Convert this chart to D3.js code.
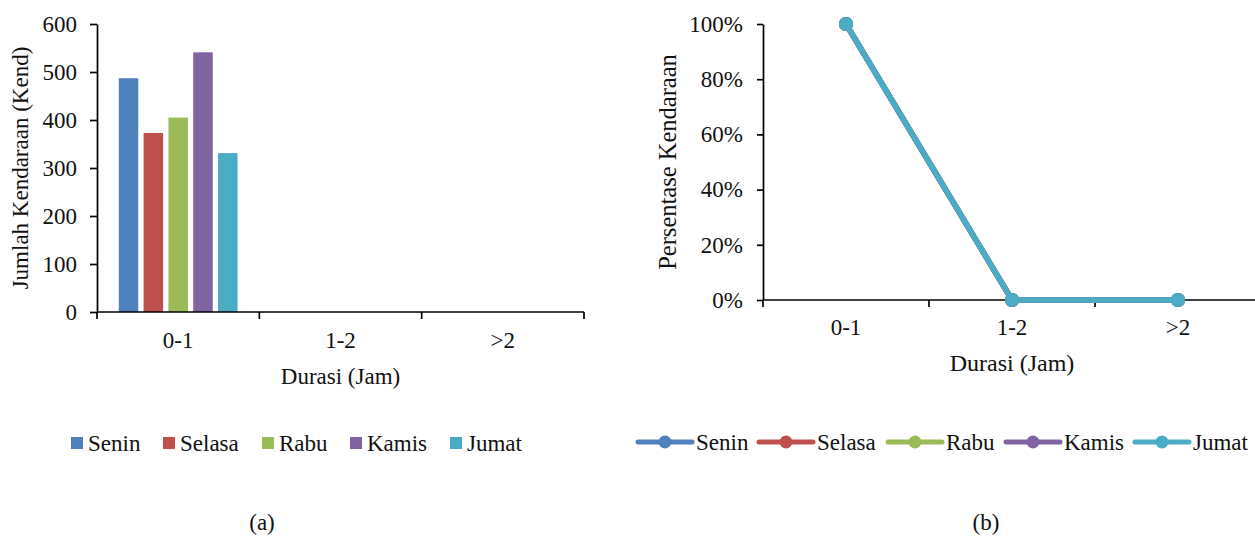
<!DOCTYPE html>
<html>
<head>
<meta charset="utf-8">
<script src="https://cdn.jsdelivr.net/npm/d3@7"></script>
<style>
  body { margin: 0; background: #fff; }
  svg { display: block; }
  .axis path, .axis line { stroke: #000; stroke-width: 1.7; }
</style>
</head>
<body>
<svg width="1255" height="537"></svg>
<script>
// categories and series
var durasi = ["0-1", "1-2", ">2"];
var hari = ["Senin", "Selasa", "Rabu", "Kamis", "Jumat"];
var warna = ["#4F81BD", "#C0504D", "#9BBB59", "#8064A2", "#4BACC6"];

// jumlah kendaraan per durasi (a)
var senin = [487, 0, 0];
var selasa = [373, 0, 0];
var rabu = [405, 0, 0];
var kamis = [541, 0, 0];
var jumat = [331, 0, 0];

// persentase kendaraan per durasi (b)
var pSenin = [1, 0, 0];
var pSelasa = [1, 0, 0];
var pRabu = [1, 0, 0];
var pKamis = [1, 0, 0];
var pJumat = [1, 0, 0];

var yTicksA = [0, 100, 200, 300, 400, 500, 600];
var yTicksB = [0, 0.2, 0.4, 0.6, 0.8, 1];

var jumlah = [senin, selasa, rabu, kamis, jumat];
var persen = [pSenin, pSelasa, pRabu, pKamis, pJumat];

var FONT = 'Liberation Serif';
var FS = 23;

var svg = d3.select('svg');

// ---------- (a) bar chart ----------
var a = { left: 97, right: 584, top: 24, bottom: 312 };

var x0 = d3.scaleBand()
  .domain(durasi)
  .range([a.left, a.right]);
var x1 = d3.scaleBand()
  .domain(hari)
  .range([0, x0.bandwidth()])
  .paddingInner(0.214)
  .paddingOuter(0.877);
var yA = d3.scaleLinear()
  .domain([0, 600])
  .range([a.bottom, a.top]);

var gA = svg.append('g');

durasi.forEach(function(c, ci) {
  gA.selectAll('.bar' + ci)
    .data(hari)
    .enter()
    .append('rect')
    .attr('x', function(d) { return x0(c) + x1(d); })
    .attr('y', function(d, i) { return yA(jumlah[i][ci]); })
    .attr('width', x1.bandwidth())
    .attr('height', function(d, i) { return a.bottom - yA(jumlah[i][ci]); })
    .attr('fill', function(d, i) { return warna[i]; });
});

gA.append('g')
  .attr('class', 'axis')
  .attr('transform', 'translate(' + a.left + ',0)')
  .call(d3.axisLeft(yA).tickValues(yTicksA).tickSize(7).tickSizeOuter(0).tickPadding(13));

var xAxA = gA.append('g')
  .attr('class', 'axis')
  .attr('transform', 'translate(0,' + a.bottom + ')')
  .call(d3.axisBottom(x0).tickSize(0).tickPadding(20));
xAxA.select('.domain').attr('d', 'M' + a.left + ',0H' + a.right);
xAxA.selectAll('.bound')
  .data(durasi.concat(['end']))
  .enter()
  .append('line')
  .attr('x1', function(d, i) { return a.left + i * x0.step(); })
  .attr('x2', function(d, i) { return a.left + i * x0.step(); })
  .attr('y1', 0).attr('y2', 7);

gA.append('text')
  .attr('x', (a.left + a.right) / 2)
  .attr('y', 384)
  .attr('text-anchor', 'middle')
  .text('Durasi (Jam)');

gA.append('text')
  .attr('transform', 'translate(28,' + ((a.top + a.bottom) / 2) + ') rotate(-90)')
  .attr('text-anchor', 'middle')
  .text('Jumlah Kendaraan (Kend)');

// legend (a)
var legA = [71, 163, 262, 350, 450];
hari.forEach(function(h, i) {
  gA.append('rect')
    .attr('x', legA[i]).attr('y', 437)
    .attr('width', 12).attr('height', 12)
    .attr('fill', warna[i]);
  gA.append('text')
    .attr('x', legA[i] + 17).attr('y', 451)
    .text(h);
});

gA.append('text')
  .attr('x', 262).attr('y', 530)
  .attr('text-anchor', 'middle')
  .text('(a)');

// ---------- (b) line chart ----------
var b = { left: 763, right: 1261, top: 24, bottom: 300 };

var xB = d3.scaleBand()
  .domain(durasi)
  .range([b.left, b.right]);
var yB = d3.scaleLinear()
  .domain([0, 1])
  .range([b.bottom, b.top]);

var gB = svg.append('g');

gB.append('g')
  .attr('class', 'axis')
  .attr('transform', 'translate(' + b.left + ',0)')
  .call(d3.axisLeft(yB).tickValues(yTicksB).tickFormat(d3.format('.0%')).tickSize(6).tickSizeOuter(0).tickPadding(14));

var xAxB = gB.append('g')
  .attr('class', 'axis')
  .attr('transform', 'translate(0,' + b.bottom + ')')
  .call(d3.axisBottom(xB).tickSize(0).tickPadding(19));
xAxB.select('.domain').attr('d', 'M' + b.left + ',0H1255');
xAxB.selectAll('.bound')
  .data(durasi)
  .enter()
  .append('line')
  .attr('x1', function(d) { return xB(d); })
  .attr('x2', function(d) { return xB(d); })
  .attr('y1', 0).attr('y2', 7);

var line = d3.line()
  .x(function(d, i) { return xB(durasi[i]) + xB.bandwidth() / 2; })
  .y(function(d) { return yB(d); });

persen.forEach(function(s, i) {
  gB.append('path')
    .attr('d', line(s))
    .attr('fill', 'none')
    .attr('stroke', warna[i])
    .attr('stroke-width', 5.5)
    .attr('stroke-linejoin', 'round');
  gB.selectAll('.pt' + i)
    .data(s)
    .enter()
    .append('circle')
    .attr('cx', function(d, j) { return xB(durasi[j]) + xB.bandwidth() / 2; })
    .attr('cy', function(d) { return yB(d); })
    .attr('r', 7)
    .attr('fill', warna[i]);
});

var judulX = gB.append('text')
  .attr('x', xB('1-2') + xB.bandwidth() / 2)
  .attr('y', 371)
  .attr('text-anchor', 'middle')
  .text('Durasi (Jam)');

var judulY = gB.append('text')
  .attr('transform', 'translate(676,' + ((b.top + b.bottom) / 2) + ') rotate(-90)')
  .attr('text-anchor', 'middle')
  .text('Persentase Kendaraan');

// legend (b)
var legB = [638, 759, 888, 1006, 1135];
hari.forEach(function(h, i) {
  gB.append('line')
    .attr('x1', legB[i]).attr('x2', legB[i] + 54)
    .attr('y1', 442).attr('y2', 442)
    .attr('stroke', warna[i])
    .attr('stroke-width', 5)
    .attr('stroke-linecap', 'round');
  gB.append('circle')
    .attr('cx', legB[i] + 27).attr('cy', 442)
    .attr('r', 6.5)
    .attr('fill', warna[i]);
  gB.append('text')
    .attr('x', legB[i] + 58).attr('y', 450)
    .text(h);
});

gB.append('text')
  .attr('x', 986).attr('y', 530)
  .attr('text-anchor', 'middle')
  .text('(b)');

// font on every text, axis groups included
svg.selectAll('g.axis').attr('font-family', null).attr('font-size', null);
svg.selectAll('text')
  .attr('font-family', FONT)
  .attr('font-size', FS)
  .attr('fill', '#111');
judulY.attr('font-size', 24.5);
judulX.attr('font-size', 24);
</script>
</body>
</html>
